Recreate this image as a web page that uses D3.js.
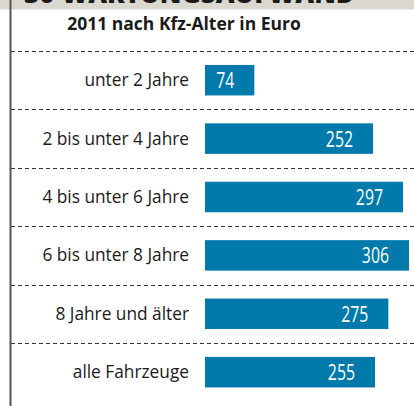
<!DOCTYPE html>
<html>
<head>
<meta charset="utf-8">
<script src="https://cdn.jsdelivr.net/npm/d3@7"></script>
<style>
  body { margin: 0; background: #fff; }
  svg { display: block; }
</style>
</head>
<body>
<div id="chart"></div>
<script>
var categories = ["unter 2 Jahre", "2 bis unter 4 Jahre", "4 bis unter 6 Jahre",
  "6 bis unter 8 Jahre", "8 Jahre und älter", "alle Fahrzeuge"];
var values = [74, 252, 297, 306, 275, 255];
var headerText = "30 WARTUNGSAUFWAND";
var titleText = "2011 nach Kfz-Alter in Euro";

var W = 414, H = 406;

var svg = d3.select("#chart")
  .append("svg")
    .attr("width", W)
    .attr("height", H);

// header band, its title is cut off by the top edge
svg.append("rect")
  .attr("x", 0).attr("y", 0)
  .attr("width", W).attr("height", 9.5)
  .attr("fill", "#dbd8d0");
svg.append("text")
  .attr("x", 24).attr("y", 2.5)
  .attr("font-family", "'Open Sans', sans-serif")
  .attr("font-weight", 800)
  .attr("font-size", 26)
  .attr("fill", "#1a1a1a")
  .text(headerText);

// left border
svg.append("line")
  .attr("x1", 10.5).attr("x2", 10.5)
  .attr("y1", 0).attr("y2", H)
  .attr("stroke", "#555")
  .attr("stroke-width", 2);

svg.append("text")
  .attr("x", 184).attr("y", 29.5)
  .attr("text-anchor", "middle")
  .attr("font-family", "'Open Sans', sans-serif")
  .attr("font-weight", 700)
  .attr("font-size", 17.5)
  .attr("fill", "#1a1a1a")
  .text(titleText);

// scales
var y = d3.scaleBand()
  .domain(categories)
  .range([51, 51 + 6 * 58.4])
  .padding(0);

var x = d3.scaleLinear()
  .domain([0, 300])
  .range([205, 405]);

var barH = 30.5;

// dashed separators
svg.selectAll("line.sep")
  .data(categories)
  .enter()
  .append("line")
    .attr("class", "sep")
    .attr("x1", 11).attr("x2", W)
    .attr("y1", function(d) { return Math.round(y(d)) + 0.5; })
    .attr("y2", function(d) { return Math.round(y(d)) + 0.5; })
    .attr("stroke", "#333")
    .attr("stroke-width", 1)
    .attr("stroke-dasharray", "4,3");

// bars
svg.selectAll("rect.bar")
  .data(values)
  .enter()
  .append("rect")
    .attr("class", "bar")
    .attr("x", x(0))
    .attr("y", function(d, i) { return y(categories[i]) + (y.bandwidth() - barH) / 2; })
    .attr("width", function(d) { return x(d) - x(0); })
    .attr("height", barH)
    .attr("fill", "#007aab");

// category labels
svg.selectAll("text.cat")
  .data(categories)
  .enter()
  .append("text")
    .attr("class", "cat")
    .attr("x", 189)
    .attr("y", function(d) { return y(d) + y.bandwidth() / 2 + 6; })
    .attr("text-anchor", "end")
    .attr("font-family", "'Open Sans', sans-serif")
    .attr("font-size", 17.3)
    .attr("fill", "#1a1a1a")
    .text(function(d) { return d; });

// value labels (condensed)
svg.selectAll("text.val")
  .data(values)
  .enter()
  .append("text")
    .attr("class", "val")
    .attr("transform", function(d, i) {
      return "translate(" + (x(d) - 20) + "," + (y(categories[i]) + y.bandwidth() / 2 + 8) + ") scale(0.72,1)";
    })
    .attr("text-anchor", "end")
    .attr("font-family", "'Open Sans', sans-serif")
    .attr("font-size", 22)
    .attr("fill", "#fff")
    .text(function(d) { return d; });
</script>
</body>
</html>
